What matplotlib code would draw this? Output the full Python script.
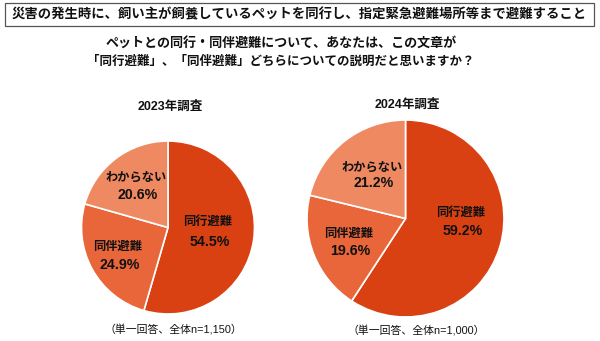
import matplotlib
matplotlib.use("Agg")
import matplotlib.pyplot as plt
from matplotlib.patches import Rectangle

plt.rcParams['font.family'] = ['Liberation Sans', 'Noto Sans CJK JP', 'DejaVu Sans']

# ---- data ----
categories = ["同行避難", "同伴避難", "わからない"]
values_2023 = [54.5, 24.9, 20.6]
values_2024 = [59.2, 19.6, 21.2]
titles = ["2023年調査", "2024年調査"]
notes = ["（単一回答、全体n=1,150）", "（単一回答、全体n=1,000）"]
header = "災害の発生時に、飼い主が飼養しているペットを同行し、指定緊急避難場所等まで避難すること"
question_lines = ["ペットとの同行・同伴避難について、あなたは、この文章が",
                  "「同行避難」、「同伴避難」どちらについての説明だと思いますか？"]

colors = ["#D94112", "#E9653A", "#EF8962"]

W, H = 600, 341
fig = plt.figure(figsize=(W / 100, H / 100), dpi=100)

def fx(px):
    return px / W

def fy(py):
    return 1 - py / H

# header box
fig.patches.append(Rectangle((fx(5), fy(26)), fx(589), 23 / H, transform=fig.transFigure,
                             facecolor="white", edgecolor="#555555", linewidth=0.9))
fig.text(fx(299), fy(14.5), header, ha="center", va="center", fontsize=9.6,
         fontweight="bold", color="#111111")
fig.text(fx(281), fy(43), question_lines[0], ha="center", va="center", fontsize=9.4,
         fontweight="bold", color="#111111")
fig.text(fx(281), fy(62), question_lines[1], ha="center", va="center", fontsize=9.0,
         fontweight="bold", color="#111111")

# pie layout: (center x, center y, radius) in pixels
pies = [(168, 227.5, 86.5), (405.5, 218.5, 98.5)]
label_offsets = [
    [(0.46, 0.07, -0.17), (-0.58, -0.22, -0.43), (-0.37, 0.58, 0.38)],
    [(0.56, 0.06, -0.13), (-0.58, -0.16, -0.33), (-0.34, 0.52, 0.36)],
]
title_y = [107, 105]
note_pos = [(173, 330), (416, 331)]

for i, vals in enumerate([values_2023, values_2024]):
    cx, cy, r = pies[i]
    ax = fig.add_axes([fx(cx - r), fy(cy + r), fx(2 * r), 2 * r / H])
    ax.pie(vals, colors=colors, startangle=90, counterclock=False,
           wedgeprops=dict(edgecolor="white", linewidth=1.2))
    ax.set_xlim(-1, 1)
    ax.set_ylim(-1, 1)
    ax.axis("off")
    for j, (cat, v) in enumerate(zip(categories, vals)):
        ox, oy1, oy2 = label_offsets[i][j]
        ax.text(ox, oy1, cat, ha="center", va="center", fontsize=8.8,
                fontweight="bold", color="#111111")
        ax.text(ox + 0.02, oy2, f"{v:.1f}%", ha="center", va="center", fontsize=10.2,
                fontweight="bold", color="#111111")
    fig.text(fx(cx + 2), fy(title_y[i]), titles[i], ha="center", va="center",
             fontsize=9, fontweight="bold", color="#111111")
    fig.text(fx(note_pos[i][0]), fy(note_pos[i][1]), notes[i], ha="center", va="center",
             fontsize=7.8, color="#111111")

fig.savefig("out.png", dpi=100, facecolor="white")
